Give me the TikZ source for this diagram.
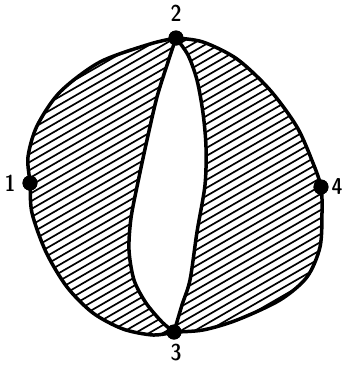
\documentclass[tikz,border=0pt]{standalone}
\begin{document}
\begin{tikzpicture}[x=1pt,y=-1pt,
  outline/.style={line width=3.5pt, line join=round, line cap=round},
  hatch/.style={line width=1.7pt},
  dot/.style={circle, fill=black, inner sep=0pt, minimum size=15pt},
  lbl/.style={font=\fontsize{23}{23}\fontseries{sbc}\sffamily}]
\useasboundingbox (0,0) rectangle (342,368);
\node[dot] (n2) at (176,38) {};
\node[dot] (n1) at (30,183) {};
\node[dot] (n4) at (321,187) {};
\node[dot] (n3) at (174,332) {};
% hatching left region
\begin{scope}
\clip plot[smooth] coordinates {(n2.center) (150,44) (100,62) (60,92) (37,126) (28,157) (n1.center) (32,213) (46,252) (67,287) (93,313) (123,329) (153,335) (n3.center)}
  -- plot[smooth] coordinates {(n3.center) (162,322) (146,303) (134,280) (129,250) (131,218) (138,182) (147,140) (157,97) (168,62) (n2.center)} -- cycle;
\foreach \j in {0,8,...,616} \draw[hatch] (-50,\j) -- ++(600,-346.4);
\end{scope}
\begin{scope}
\clip plot[smooth] coordinates {(n2.center) (203,42) (237,59) (270,90) (297,127) (313,163) (n4.center) (322,213) (320,247) (307,277) (280,300) (237,320) (203,330) (n3.center)}
  -- plot[smooth] coordinates {(n3.center) (182,305) (190,280) (197,232) (205,185) (206,147) (203,113) (197,80) (188,55) (n2.center)} -- cycle;
\foreach \j in {0,8,...,616} \draw[hatch] (-50,\j) -- ++(600,-346.4);
\end{scope}
\draw[outline] plot[smooth] coordinates {(n2.center) (150,44) (100,62) (60,92) (37,126) (28,157) (n1.center) (32,213) (46,252) (67,287) (93,313) (123,329) (153,335) (n3.center)};
\draw[outline] plot[smooth] coordinates {(n2.center) (203,42) (237,59) (270,90) (297,127) (313,163) (n4.center) (322,213) (320,247) (307,277) (280,300) (237,320) (203,330) (n3.center)};
\draw[outline] plot[smooth] coordinates {(n2.center) (168,62) (157,97) (147,140) (138,182) (131,218) (129,250) (134,280) (146,303) (162,322) (n3.center)};
\draw[outline] plot[smooth] coordinates {(n2.center) (188,55) (197,80) (203,113) (206,147) (205,185) (197,232) (190,280) (182,305) (n3.center)};
\node[dot] at (n2) {};
\node[dot] at (n1) {};
\node[dot] at (n4) {};
\node[dot] at (n3) {};
\node[lbl] (l2) at (176,13) {2};
\node[lbl] (l1) at (10,183) {1};
\node[lbl] (l4) at (337,187) {4};
\node[lbl] (l3) at (176,353) {3};
\end{tikzpicture}
\end{document}
